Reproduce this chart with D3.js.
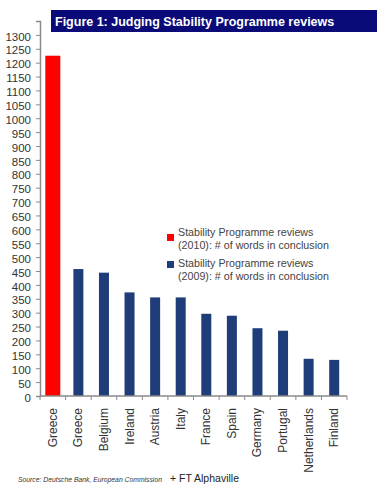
<!DOCTYPE html>
<html>
<head>
<meta charset="utf-8">
<script src="https://cdn.jsdelivr.net/npm/d3@7"></script>
<style>
  body { margin:0; background:#fff; }
  text { font-family: "Liberation Sans", Arial, sans-serif; }
</style>
</head>
<body>
<div class="svg-container"></div>
<script>
//chart data
const categories = ['Greece','Greece','Belgium','Ireland','Austria','Italy','France','Spain','Germany','Portugal','Netherlands','Finland'];
const words2010 = [1225, null, null, null, null, null, null, null, null, null, null, null];
const words2009 = [null, 457, 444, 373, 355, 355, 296, 289, 244, 235, 134, 130];
const yTicks = d3.range(0, 1351, 50);
const seriesNames = ['Stability Programme reviews|(2010): # of words in conclusion',
                     'Stability Programme reviews|(2009): # of words in conclusion'];
const seriesColors = ['#ff0000', '#1f3d78'];

//required dimensions
const width = 391;
const height = 489;
const margin = { top:21, right:44, bottom:93, left:40 };

const svg = d3.select('.svg-container')
    .append('svg')
    .attr('width', width)
    .attr('height', height);

//title box
svg.append('rect')
    .attr('x', 51).attr('y', 10)
    .attr('width', 326).attr('height', 22)
    .attr('fill', '#0a0a78');
svg.append('text')
    .attr('x', 55).attr('y', 26)
    .attr('fill', '#fff')
    .attr('font-weight', 'bold')
    .attr('font-size', 12.5)
    .text('Figure 1: Judging Stability Programme reviews');

//scales
const xScale = d3.scaleBand()
    .domain(d3.range(categories.length))
    .range([margin.left, width - margin.right]);

const yScale = d3.scaleLinear()
    .domain([0, 1350])
    .range([height - margin.bottom, margin.top]);

//y axis
const yAxis = d3.axisLeft(yScale)
    .tickValues(yTicks)
    .tickSize(4)
    .tickFormat(d => d > 1300 ? '' : d);

const gy = svg.append('g')
    .attr('class', 'y-axis')
    .attr('transform', `translate(${margin.left},0)`)
    .call(yAxis);
gy.select('.domain').attr('stroke', '#8a8a8a').attr('stroke-width', 1.5);
gy.selectAll('.tick line').attr('stroke', '#8a8a8a');
gy.selectAll('.tick text')
    .attr('x', -9)
    .attr('dy', '0.45em')
    .attr('fill', '#333')
    .attr('font-size', 11.5)
    .attr('font-family', '"Liberation Sans", Arial, sans-serif');

//bars: 2010 series is wider than 2009
svg.selectAll('.bar2010')
    .data(words2010.map((v, i) => ({ v, i })).filter(d => d.v !== null))
    .join('rect')
    .attr('class', 'bar2010')
    .attr('x', d => xScale(d.i) + xScale.bandwidth() / 2 - 7.5)
    .attr('y', d => yScale(d.v))
    .attr('width', 15)
    .attr('height', d => yScale(0) - yScale(d.v))
    .attr('fill', seriesColors[0]);

svg.selectAll('.bar2009')
    .data(words2009.map((v, i) => ({ v, i })).filter(d => d.v !== null))
    .join('rect')
    .attr('class', 'bar2009')
    .attr('x', d => xScale(d.i) + xScale.bandwidth() / 2 - 5)
    .attr('y', d => yScale(d.v))
    .attr('width', 10)
    .attr('height', d => yScale(0) - yScale(d.v))
    .attr('fill', seriesColors[1]);

//x axis, ticks between categories
const xBase = yScale(0);
svg.append('line')
    .attr('x1', margin.left).attr('x2', width - margin.right)
    .attr('y1', xBase).attr('y2', xBase)
    .attr('stroke', '#8a8a8a').attr('stroke-width', 1.5);
svg.selectAll('.x-tick')
    .data(d3.range(categories.length + 1))
    .join('line')
    .attr('class', 'x-tick')
    .attr('x1', i => margin.left + i * xScale.step())
    .attr('x2', i => margin.left + i * xScale.step())
    .attr('y1', xBase).attr('y2', xBase + 4)
    .attr('stroke', '#8a8a8a');

svg.selectAll('.x-label')
    .data(categories)
    .join('text')
    .attr('class', 'x-label')
    .attr('transform', (d, i) => `translate(${xScale(i) + xScale.bandwidth() / 2 + 4},${xBase + 12}) rotate(-90)`)
    .attr('text-anchor', 'end')
    .attr('fill', '#333')
    .attr('font-size', 12)
    .text(d => d);

//legend
const legendY = [232, 263];
seriesNames.forEach((name, k) => {
    const lines = name.split('|');
    svg.append('rect')
        .attr('x', 167).attr('y', k === 0 ? legendY[k] + 2 : legendY[k] - 2)
        .attr('width', 7).attr('height', 7)
        .attr('fill', seriesColors[k]);
    lines.forEach((ln, j) => {
        svg.append('text')
            .attr('x', 178).attr('y', legendY[k] + j * 13)
            .attr('dy', '0.35em')
            .attr('fill', '#444')
            .attr('font-size', 10.7)
            .text(ln);
    });
});

//source note
svg.append('text')
    .attr('x', 18).attr('y', 482)
    .attr('font-size', 6.8)
    .attr('font-style', 'italic')
    .attr('fill', '#333')
    .text('Source: Deutsche Bank, European Commission');
svg.append('text')
    .attr('x', 170).attr('y', 482)
    .attr('font-size', 10.5)
    .attr('fill', '#222')
    .text('+ FT Alphaville');
</script>
</body>
</html>
